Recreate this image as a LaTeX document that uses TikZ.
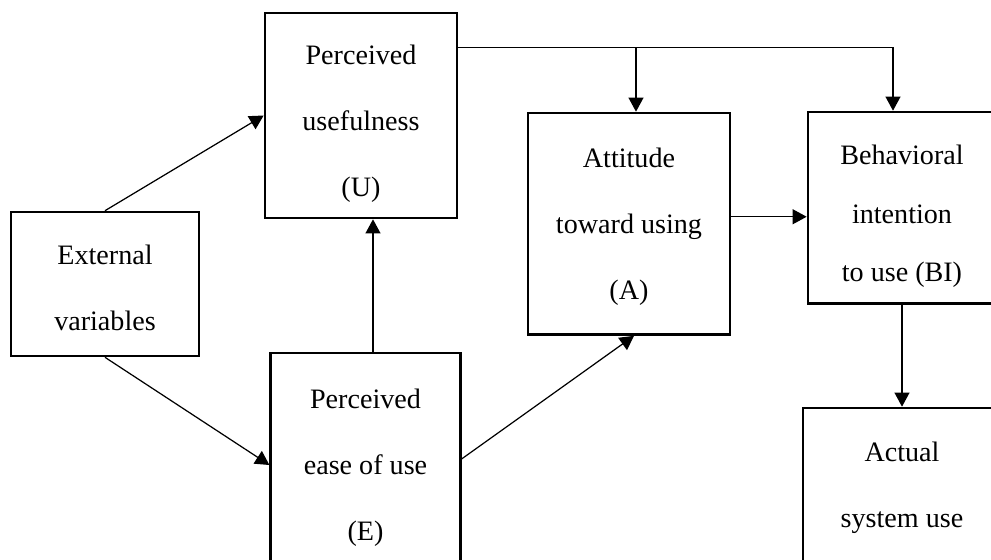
\documentclass[tikz,border=0pt]{standalone}
\usepackage{fontspec}
\setmainfont{Liberation Serif}
\usepackage{tikz}
\usetikzlibrary{arrows.meta,positioning}

\begin{document}
\begin{tikzpicture}[
  box/.style={draw,line width=1.5pt,inner sep=2pt,align=center,text depth=0pt,
              font=\fontsize{16}{37.6}\selectfont},
  arr/.style={-{Triangle[length=8pt,width=8.5pt]},line width=0.7pt}
]
\useasboundingbox (0,0) rectangle (19.82,-11.2);
\clip (0,0) rectangle (19.82,-11.2);

\node[box,text height=53pt,minimum width=3.76cm,minimum height=2.88cm] (ext) at (2.10,-5.68) {External\\variables};
\node[box,text height=91.8pt,minimum width=3.84cm,minimum height=4.10cm] (u) at (7.22,-2.31) {Perceived\\usefulness\\(U)};
\node[box,minimum width=3.79cm,minimum height=4.48cm] (e)   at (7.31,-9.30)  {Perceived\\ease of use\\(E)};
\node[box,minimum width=4.04cm,minimum height=4.43cm] (att) at (12.58,-4.475) {Attitude\\toward using\\(A)};
\node[box,text height=84.3pt,minimum width=3.76cm,minimum height=3.83cm,
      font=\fontsize{16}{33.3}\selectfont] (bi) at (18.04,-4.155) {Behavioral\\intention\\to use (BI)};
\node[box,text height=91.8pt,minimum width=3.96cm,minimum height=4.20cm] (act) at (18.04,-10.26) {Actual\\system use\\};

\coordinate (top) at ([yshift=-0.72cm]u.north east);

\draw[arr] (ext.north) -- (u.west);
\draw[arr] (ext.south) -- (e.west);
\draw[arr] ([xshift=0.15cm]e.north) -- ([xshift=0.15cm]e.north |- u.south);
\draw[arr] ([yshift=0.12cm]e.east) -- ([xshift=0.1cm]att.south);
\draw[arr] (top) -| ([xshift=-0.18cm]bi.north);
\draw[arr] ([xshift=0.14cm]att.north |- top) -- ([xshift=0.14cm]att.north);
\draw[arr] ([yshift=0.14cm]att.east) -- ([yshift=0.14cm]att.east -| bi.west);
\draw[arr] (bi.south) -- (act.north);
\end{tikzpicture}
\end{document}
